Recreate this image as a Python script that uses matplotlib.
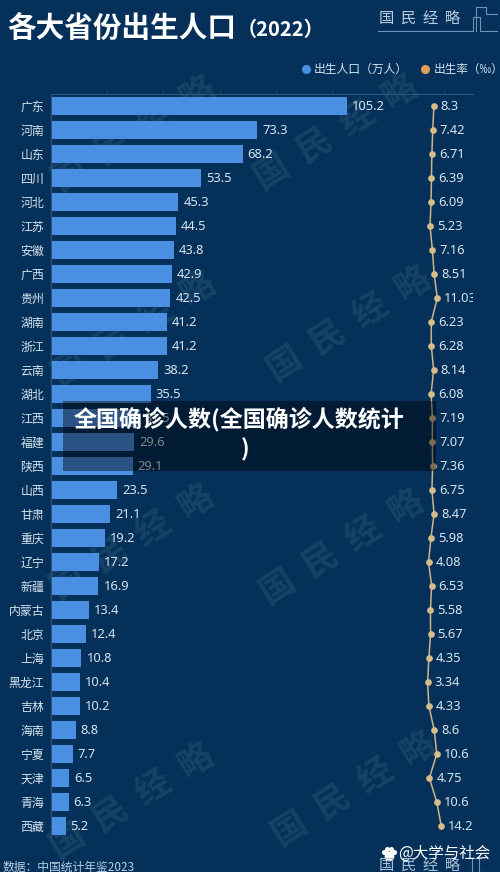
import matplotlib
matplotlib.use("Agg")
import matplotlib.pyplot as plt
from matplotlib.patches import Rectangle

plt.rcParams['font.family'] = ['Noto Sans CJK SC', 'DejaVu Sans']

provinces = ['广东', '河南', '山东', '四川', '河北', '江苏', '安徽', '广西', '贵州', '湖南', '浙江',
             '云南', '湖北', '江西', '福建', '陕西', '山西', '甘肃', '重庆', '辽宁', '新疆', '内蒙古',
             '北京', '上海', '黑龙江', '吉林', '海南', '宁夏', '天津', '青海', '西藏']
births = [105.2, 73.3, 68.2, 53.5, 45.3, 44.5, 43.8, 42.9, 42.5, 41.2, 41.2,
          38.2, 35.5, 31.5, 29.6, 29.1, 23.5, 21.1, 19.2, 17.2, 16.9, 13.4,
          12.4, 10.8, 10.4, 10.2, 8.8, 7.7, 6.5, 6.3, 5.2]
rates = [8.3, 7.42, 6.71, 6.39, 6.09, 5.23, 7.16, 8.51, 11.03, 6.23, 6.28,
         8.14, 6.08, 7.19, 7.07, 7.36, 6.75, 8.47, 5.98, 4.08, 6.53, 5.58,
         5.67, 4.35, 3.34, 4.33, 8.6, 10.6, 4.75, 10.6, 14.2]
rate_labels = ['8.3', '7.42', '6.71', '6.39', '6.09', '5.23', '7.16', '8.51', '11.03', '6.23', '6.28',
               '8.14', '6.08', '7.19', '7.07', '7.36', '6.75', '8.47', '5.98', '4.08', '6.53', '5.58',
               '5.67', '4.35', '3.34', '4.33', '8.6', '10.6', '4.75', '10.6', '14.2']

W, H = 500, 872
BG = '#05305a'
TXT = '#d6e4ee'
NUM_FONT = ['Noto Sans', 'DejaVu Sans']

fig = plt.figure(figsize=(W / 100, H / 100), dpi=100, facecolor=BG)


def px(x, y):
    return x / W, 1 - y / H


# 背景水印
for wx, wy in [(135, 135), (337, 133), (135, 330), (350, 325),
               (133, 543), (343, 548), (133, 802), (355, 790)]:
    fig.text(*px(wx, wy), '国  民  经  略', color='#154265', fontsize=25, rotation=32, fontweight='bold',
             ha='center', va='center', zorder=-1, rotation_mode='anchor')

ax = fig.add_axes([51 / W, 1 - 838 / H, 422 / W, (838 - 94) / H])
ax.patch.set_alpha(0)
ax.set_xlim(0, 422 / 2.81)
ax.set_ylim(len(provinces) - 0.5, -0.5)
rows = list(range(len(provinces)))

rate_ax = ax.twiny()
rate_ax.set_xlim((51 - 423.4) / 1.26, (473 - 423.4) / 1.26)
rate_ax.axis('off')

ax.barh(rows, births, height=0.71, color='#4a8fe2', zorder=2)
ax.set_yticks(rows)
ax.set_yticklabels(provinces, fontsize=8.6, color=TXT)
ax.tick_params(axis='y', length=1.5, width=0.5, pad=3.4, color='#2d5a82')
ax.set_xticks([20, 40, 60, 80, 100, 120, 140])
ax.xaxis.set_ticks_position('top')
ax.tick_params(axis='x', labeltop=False, labelbottom=False, length=2, width=0.5, color='#3a6288')
for k, sp in ax.spines.items():
    sp.set_visible(k in ('top', 'left'))
    sp.set_color('#2d5a82')
    sp.set_linewidth(0.7)
for i, b in enumerate(births):
    ax.annotate(f'{b}', (b, i), xytext=(5, 0), textcoords='offset pixels', va='center', ha='left',
                color=TXT, fontsize=9.3, family=NUM_FONT, zorder=3)

rate_ax.plot(rates, rows, color='#cdb488', lw=1.1, marker='o', ms=3.8, mfc='#d8bd8c', mec='#d8bd8c', zorder=3)
for r, i, s in zip(rates, rows, rate_labels):
    t = rate_ax.annotate(s, (r, i), xytext=(7, 0), textcoords='offset pixels', va='center', ha='left',
                         color=TXT, fontsize=9.3, family=NUM_FONT, annotation_clip=False, zorder=3)
    t.set_clip_on(True)
    t.set_clip_box(rate_ax.bbox)

# 标题和图例
fig.text(*px(7, 28), '各大省份出生人口', color='white', fontsize=20.6, fontweight='bold', va='center')
fig.text(*px(237, 29), '（2022）', color='white', fontsize=14.5, fontweight='bold', va='center', ha='left')
fig.text(*px(379, 19), '国  民  经  略', color='#b8cde0', fontsize=11, va='center')
fig.add_artist(plt.Line2D([378 / W, 473 / W, 473 / W, 480 / W, 480 / W, 497 / W],
                          [1 - 31 / H, 1 - 31 / H, 1 - 17 / H, 1 - 17 / H, 1 - 31 / H, 1 - 31 / H],
                          color='#6d93b6', lw=0.8))
fig.add_artist(plt.Line2D([476 / W, 476 / W, 486 / W, 486 / W, 497 / W],
                          [1 - 31 / H, 1 - 7 / H, 1 - 7 / H, 1 - 14 / H, 1 - 14 / H],
                          color='#6d93b6', lw=0.8))
fig.add_artist(plt.Line2D([306 / W], [1 - 69 / H], marker='o', ms=5.5, color='#4a8fe2'))
fig.text(*px(314, 69), '出生人口（万人）', color=TXT, fontsize=8.5, va='center')
fig.add_artist(plt.Line2D([425 / W], [1 - 69 / H], marker='o', ms=5.5, color='#e0a05a'))
fig.text(*px(434, 69), '出生率（‰）', color=TXT, fontsize=8.4, va='center')

# 底部文字
fig.text(*px(3, 867), '数据：中国统计年鉴2023', color='#b8cde0', fontsize=8.5, va='center')
fig.text(*px(379, 866), '国  民  经  略', color='#a8c0d6', fontsize=11, va='center')
fig.add_artist(plt.Line2D([472 / W, 472 / W, 479 / W, 479 / W, 497 / W],
                          [1 - 872 / H, 1 - 858 / H, 1 - 858 / H, 1 - 872 / H, 1 - 872 / H],
                          color='#6d93b6', lw=0.8))
fig.text(*px(398, 853), '@大学与社会', color='white', fontsize=11.2, va='center')
# 水印的小爪子
for dx, dy, ms in [(0, 3, 6), (-5, -1, 2.6), (-2, -4, 2.6), (2, -4, 2.6), (5, -1, 2.6)]:
    fig.add_artist(plt.Line2D([(389 + dx) / W], [1 - (853 + dy) / H], marker='o', ms=ms, color='white'))

# 中间的遮罩标题
fig.add_artist(Rectangle((63 / W, 1 - 471 / H), 373 / W, 70 / H, transform=fig.transFigure,
                         facecolor='black', alpha=0.42, edgecolor='none', zorder=5))
fig.text(*px(238.5, 419), '全国确诊人数(全国确诊人数统计', color='white', fontsize=16.6, fontweight='bold',
         ha='center', va='center', zorder=6)
fig.text(*px(245, 450), ')', color='white', fontsize=16.6, fontweight='bold', ha='center', va='center', zorder=6)

fig.savefig('out.png', dpi=100, facecolor=BG)
